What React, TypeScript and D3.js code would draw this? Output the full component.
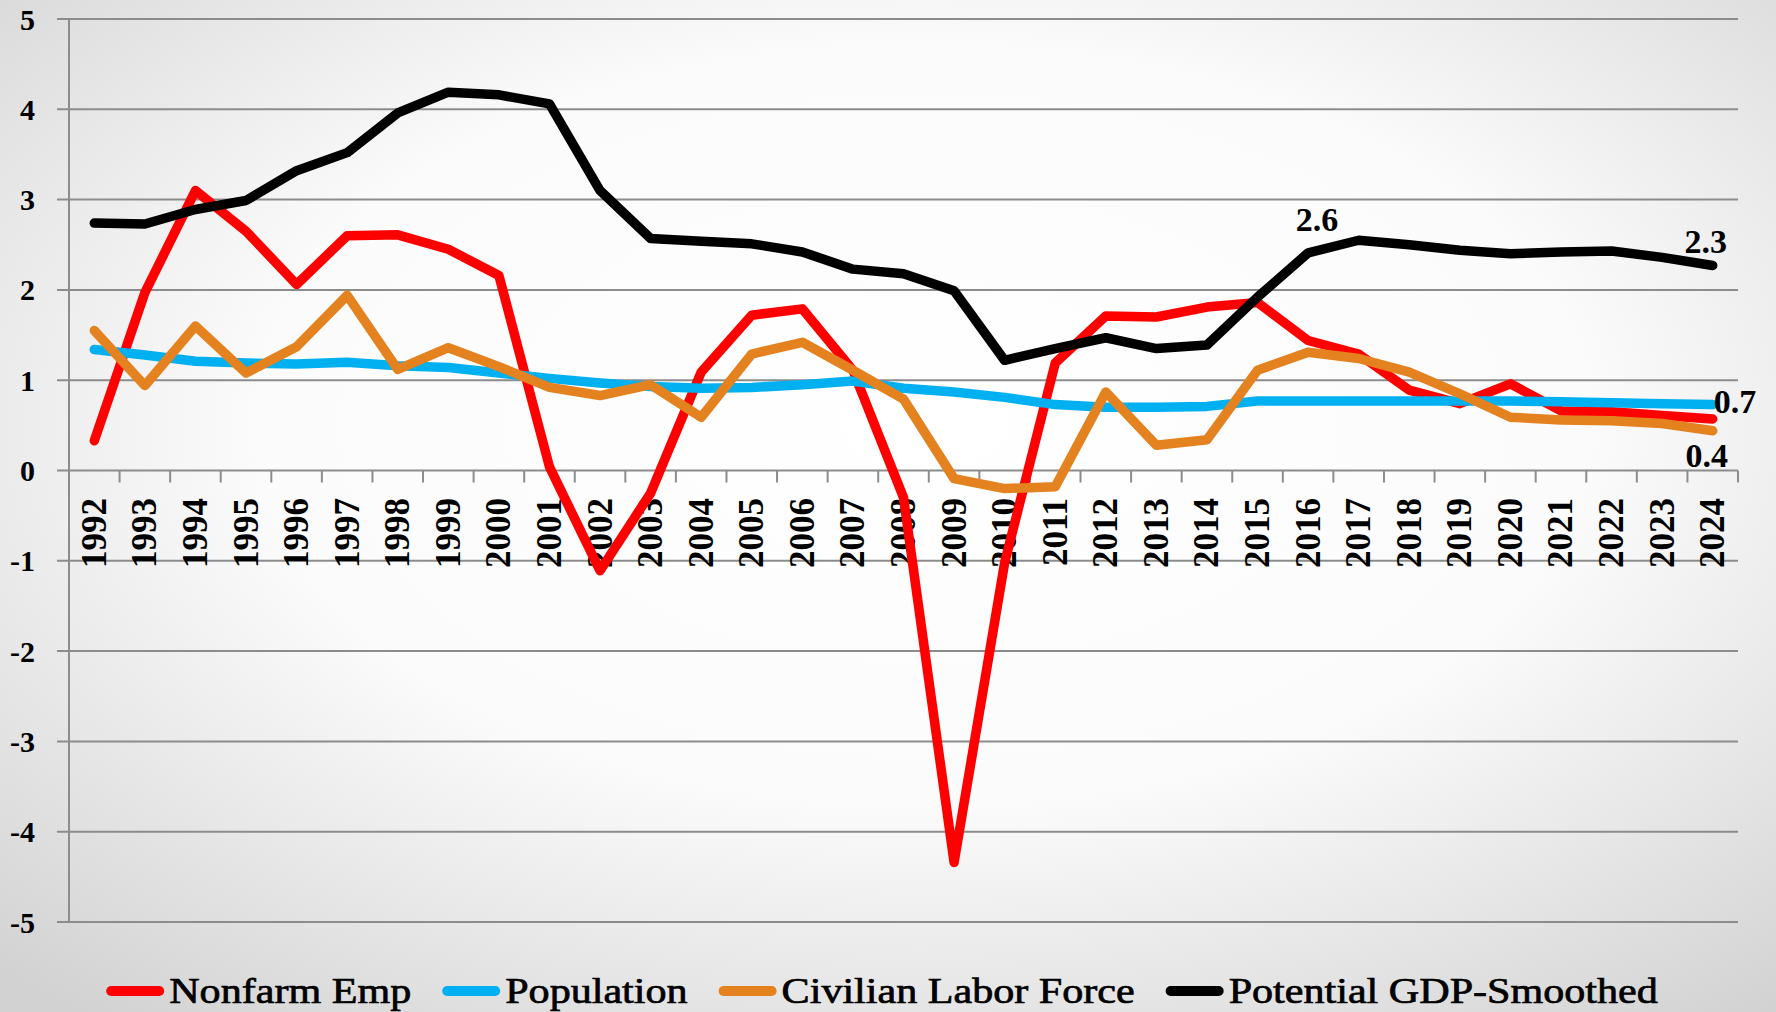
import React, { useEffect, useRef } from "react";
import * as d3 from "d3";

const years = d3.range(1992, 2025).map(String);
const yTicks = [5, 4, 3, 2, 1, 0, -1, -2, -3, -4, -5];

const nonfarm = [0.33, 1.97, 3.1, 2.65, 2.06, 2.6, 2.61, 2.45, 2.16, 0.04, -1.11, -0.25, 1.09, 1.72, 1.79, 1.11, -0.3, -4.34, -1.02, 1.19, 1.71, 1.7, 1.81, 1.86, 1.44, 1.29, 0.89, 0.74, 0.96, 0.66, 0.65, 0.61, 0.57];
const population = [1.34, 1.28, 1.21, 1.19, 1.18, 1.2, 1.16, 1.14, 1.08, 1.02, 0.97, 0.93, 0.91, 0.92, 0.95, 0.99, 0.91, 0.87, 0.81, 0.73, 0.7, 0.7, 0.71, 0.77, 0.77, 0.77, 0.77, 0.77, 0.77, 0.76, 0.75, 0.74, 0.73];
const laborForce = [1.55, 0.94, 1.6, 1.08, 1.37, 1.94, 1.12, 1.36, 1.15, 0.92, 0.83, 0.95, 0.59, 1.29, 1.42, 1.11, 0.79, -0.09, -0.2, -0.18, 0.87, 0.28, 0.34, 1.11, 1.31, 1.24, 1.09, 0.85, 0.59, 0.56, 0.55, 0.52, 0.44];
const potentialGdp = [2.74, 2.73, 2.89, 2.99, 3.32, 3.52, 3.96, 4.19, 4.16, 4.06, 3.1, 2.57, 2.54, 2.51, 2.42, 2.23, 2.18, 1.99, 1.22, 1.35, 1.47, 1.35, 1.39, 1.92, 2.41, 2.55, 2.5, 2.44, 2.4, 2.42, 2.43, 2.36, 2.27];

const seriesNames = ["Nonfarm Emp", "Population", "Civilian Labor Force", "Potential GDP-Smoothed"];
const seriesColors = ["#ff0000", "#00b0f0", "#e58220", "#000000"];
const seriesValues = [nonfarm, population, laborForce, potentialGdp];

// data labels: [series index, year, text, dx, dy, anchor]
const dataLabels: [number, string, string, number, number, string][] = [
  [3, "2016", "2.6", 9, -33, "middle"],
  [3, "2024", "2.3", -7, -24, "middle"],
  [1, "2024", "0.7", 1, -3, "start"],
  [2, "2024", "0.4", -6, 25, "middle"],
];

const W = 1776;
const H = 1012;
const FONT = "'Liberation Serif', 'Times New Roman', serif";

export default function App() {
  const legendRef = useRef<SVGGElement>(null);

  const x = d3.scaleBand<string>().domain(years).range([69, 1738]);
  const y = d3.scaleLinear().domain([-5, 5]).range([922, 19]);
  const cx = (yr: string) => (x(yr) as number) + x.bandwidth() / 2;

  const line = d3
    .line<number>()
    .x((_, i) => cx(years[i]))
    .y((d) => y(d));

  useEffect(() => {
    const g = d3.select(legendRef.current);
    g.selectAll("*").remove();
    const sx = 1.17;
    const sw = 58;
    const gapText = 5;
    const gapItem = 31;
    const items = seriesNames.map((name, i) => {
      const item = g.append("g");
      item
        .append("line")
        .attr("x1", 5)
        .attr("x2", sw - 5)
        .attr("y1", 0)
        .attr("y2", 0)
        .attr("stroke", seriesColors[i])
        .attr("stroke-width", 10)
        .attr("stroke-linecap", "round");
      const t = item
        .append("text")
        .attr("transform", `translate(${sw + gapText},0) scale(${sx},1)`)
        .attr("y", 12)
        .attr("font-family", FONT)
        .attr("font-size", 36)
        .attr("fill", "#000")
        .attr("stroke", "#000")
        .attr("stroke-width", 0.7)
        .text(name);
      const tw = (t.node() as SVGTextElement).getComputedTextLength() * sx;
      return { item, w: sw + gapText + tw };
    });
    const total = d3.sum(items, (d) => d.w) + gapItem * (items.length - 1);
    let pos = W / 2 - total / 2 - 6;
    items.forEach((d) => {
      d.item.attr("transform", `translate(${pos},991)`);
      pos += d.w + gapItem;
    });
  }, []);

  const gridColor = "#8c8c8c";
  const bandEdges = years.map((yr) => x(yr) as number).concat([x.range()[1]]);

  return (
    <svg
      width={W}
      height={H}
      style={{ position: "absolute", left: 0, top: 0, display: "block" }}
    >
      <defs>
        <radialGradient id="bg" cx="52%" cy="42%" r="75%">
          <stop offset="0%" stopColor="#ffffff" />
          <stop offset="50%" stopColor="#fbfbfb" />
          <stop offset="100%" stopColor="#d2d2d2" />
        </radialGradient>
      </defs>
      <rect x={0} y={0} width={W} height={H} fill="url(#bg)" />

      {/* horizontal gridlines + y ticks */}
      {yTicks.map((t) => (
        <g key={t}>
          <line x1={57} x2={x.range()[1]} y1={y(t)} y2={y(t)} stroke={gridColor} strokeWidth={2} />
          <text
            x={35}
            y={y(t)}
            textAnchor="end"
            dominantBaseline="central"
            fontFamily={FONT}
            fontWeight="bold"
            fontSize={30}
            fill="#000"
          >
            {t}
          </text>
        </g>
      ))}

      {/* y axis */}
      <line x1={69} x2={69} y1={y(5)} y2={y(-5)} stroke={gridColor} strokeWidth={2} />

      {/* x axis ticks */}
      {bandEdges.map((e, i) => (
        <line key={i} x1={e} x2={e} y1={y(0)} y2={y(0) + 12} stroke={gridColor} strokeWidth={2} />
      ))}

      {/* year labels */}
      {years.map((yr) => (
        <text
          key={yr}
          transform={`translate(${cx(yr)},498) rotate(-90)`}
          textAnchor="end"
          dominantBaseline="central"
          fontFamily={FONT}
          fontWeight="bold"
          fontSize={35}
          fill="#000"
        >
          {yr}
        </text>
      ))}

      {/* series */}
      {seriesValues.map((vals, i) => (
        <path
          key={seriesNames[i]}
          d={line(vals) || ""}
          fill="none"
          stroke={seriesColors[i]}
          strokeWidth={9.5}
          strokeLinejoin="round"
          strokeLinecap="round"
        />
      ))}

      {/* data labels */}
      {dataLabels.map(([si, yr, txt, dx, dy, anchor]) => (
        <text
          key={txt}
          x={cx(yr) + dx}
          y={y(seriesValues[si][years.indexOf(yr)]) + dy}
          textAnchor={anchor}
          dominantBaseline="central"
          fontFamily={FONT}
          fontWeight="bold"
          fontSize={34}
          fill="#000"
        >
          {txt}
        </text>
      ))}

      <g ref={legendRef} />
    </svg>
  );
}
